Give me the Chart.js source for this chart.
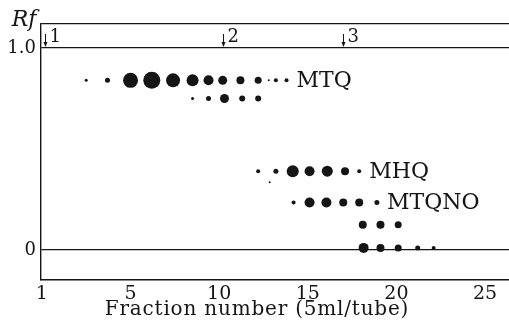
<!DOCTYPE html>
<html>
<head>
<meta charset="utf-8">
<script src="https://cdn.jsdelivr.net/npm/chart.js"></script>
<style>
  body { margin: 0; background: #fff; }
  canvas { display: block; }
</style>
</head>
<body>
<canvas id="myChart" width="509" height="329"></canvas>
<script>
// fraction numbers, spot radii and Rf
const mtqFrac = [2.5, 3.7, 5.0, 6.2, 7.4, 8.5, 9.4, 10.2, 11.2, 12.2, 12.8, 13.2, 13.8];
const mtqSpot = [1.5, 2.5, 7.5, 8.5, 7, 6, 5, 4.5, 4, 3.5, 1, 2, 2];
const mtqRf = 0.84;

const mtq2Frac = [8.5, 9.4, 10.3, 11.3, 12.2];
const mtq2Spot = [1.5, 2.5, 4.5, 3, 3];
const mtq2Rf = 0.75;

const mhqFrac = [12.2, 12.85, 13.2, 14.15, 15.1, 16.1, 17.1, 17.9];
const mhqSpot = [2, 1, 2.5, 6, 5, 5.5, 4, 2];
const mhqRf = [0.39, 0.335, 0.39, 0.39, 0.39, 0.39, 0.39, 0.39];

const mtqnoFrac = [14.2, 15.1, 16.05, 17.0, 17.9, 18.9];
const mtqnoSpot = [2, 5, 5, 4, 4, 2.5];
const mtqnoRf = 0.235;

const lowFrac = [18.1, 19.1, 20.1];
const lowSpot = [4, 4, 3.5];
const lowRf = 0.125;

const originFrac = [18.15, 19.1, 20.1, 21.2, 22.1];
const originSpot = [5, 4, 3.5, 2.5, 2];
const originRf = 0.01;

const spotLabels = ['MTQ', 'MHQ', 'MTQNO'];
const labelledRows = [0, 2, 3];

const xTickValues = [0, 5, 10, 15, 20, 25];
const xTickLabels = ['1', '5', '10', '15', '20', '25'];
const yTickLabels = { 0: '0', 1: '1.0' };

// solvent change marks on the 1.0 line
const markFrac = [0.2, 10.2, 17.0];
const markLabels = ['1', '2', '3'];

const X_MIN = -0.05, X_MAX = 26.35;
const Y_MIN = -0.149, Y_MAX = 1.119;

const ink = '#151515';
const serif = '"DejaVu Serif", serif';

function row(frac, spot, rf) {
    return {
        data: frac.map((f, i) => ({ x: f, y: Array.isArray(rf) ? rf[i] : rf })),
        pointRadius: spot,
        pointBackgroundColor: ink,
        pointBorderWidth: 0,
        showLine: false
    };
}

const plateLabels = {
    id: 'plateLabels',
    afterDraw(chart) {
        const ctx = chart.ctx;
        const xs = chart.scales.x, ys = chart.scales.y;
        ctx.save();
        ctx.fillStyle = ink;
        ctx.strokeStyle = ink;

        // spot names after the last spot of the row
        ctx.font = '22px ' + serif;
        ctx.textAlign = 'left';
        ctx.textBaseline = 'alphabetic';
        labelledRows.forEach((di, k) => {
            const pts = chart.getDatasetMeta(di).data;
            const last = pts[pts.length - 1];
            ctx.fillText(spotLabels[k], last.x + 10, ys.getPixelForValue(chart.data.datasets[di].data[0].y) + 7);
        });

        // arrows with fraction marks
        const yTop = ys.getPixelForValue(1.0);
        ctx.font = '18px ' + serif;
        ctx.textBaseline = 'middle';
        ctx.lineWidth = 1;
        markFrac.forEach((f, i) => {
            const px = Math.round(xs.getPixelForValue(f)) + 0.5;
            ctx.beginPath();
            ctx.moveTo(px, yTop - 14);
            ctx.lineTo(px, yTop - 2);
            ctx.stroke();
            ctx.beginPath();
            ctx.moveTo(px - 2, yTop - 6);
            ctx.lineTo(px + 2, yTop - 6);
            ctx.lineTo(px, yTop - 1);
            ctx.closePath();
            ctx.fill();
            ctx.fillText(markLabels[i], px + 4, yTop - 11);
        });

        // Rf header and x title
        ctx.font = 'italic 22px ' + serif;
        ctx.textAlign = 'center';
        ctx.fillText('Rf', 24, 20);
        ctx.font = '20px ' + serif;
        ctx.letterSpacing = '0.8px';
        ctx.fillText('Fraction number (5ml/tube)', 257, 310);
        ctx.restore();
    }
};

const config = {
    type: 'scatter',
    data: {
        datasets: [
            row(mtqFrac, mtqSpot, mtqRf),
            row(mtq2Frac, mtq2Spot, mtq2Rf),
            row(mhqFrac, mhqSpot, mhqRf),
            row(mtqnoFrac, mtqnoSpot, mtqnoRf),
            row(lowFrac, lowSpot, lowRf),
            row(originFrac, originSpot, originRf)
        ]
    },
    options: {
        responsive: false,
        animation: false,
        layout: { autoPadding: false, padding: { top: 24, right: 0, left: 0, bottom: 0 } },
        plugins: { legend: { display: false }, tooltip: { enabled: false } },
        scales: {
            x: {
                type: 'linear',
                min: X_MIN,
                max: X_MAX,
                afterFit: (s) => { s.height = 49; s.paddingLeft = 0; s.paddingRight = 0; },
                afterBuildTicks: (s) => { s.ticks = xTickValues.map(v => ({ value: v })); },
                grid: { display: false, drawTicks: false },
                border: { display: true, color: ink, width: 1.4 },
                ticks: {
                    padding: 3,
                    color: ink,
                    font: { family: serif, size: 19 },
                    maxRotation: 0,
                    callback: (v) => xTickLabels[xTickValues.indexOf(v)]
                }
            },
            y: {
                type: 'linear',
                min: Y_MIN,
                max: Y_MAX,
                afterFit: (s) => { s.width = 41; s.paddingTop = 0; s.paddingBottom = 0; },
                afterBuildTicks: (s) => { s.ticks = [{ value: 0 }, { value: 1 }, { value: Y_MAX }]; },
                grid: { display: true, drawTicks: false, color: ink, lineWidth: 1.3 },
                border: { display: true, color: ink, width: 1.4 },
                ticks: {
                    padding: 5,
                    color: ink,
                    font: { family: serif, size: 18 },
                    callback: (v) => yTickLabels[v] || ''
                }
            }
        }
    },
    plugins: [plateLabels]
};

const myChart = new Chart(document.getElementById('myChart'), config);
</script>
</body>
</html>
